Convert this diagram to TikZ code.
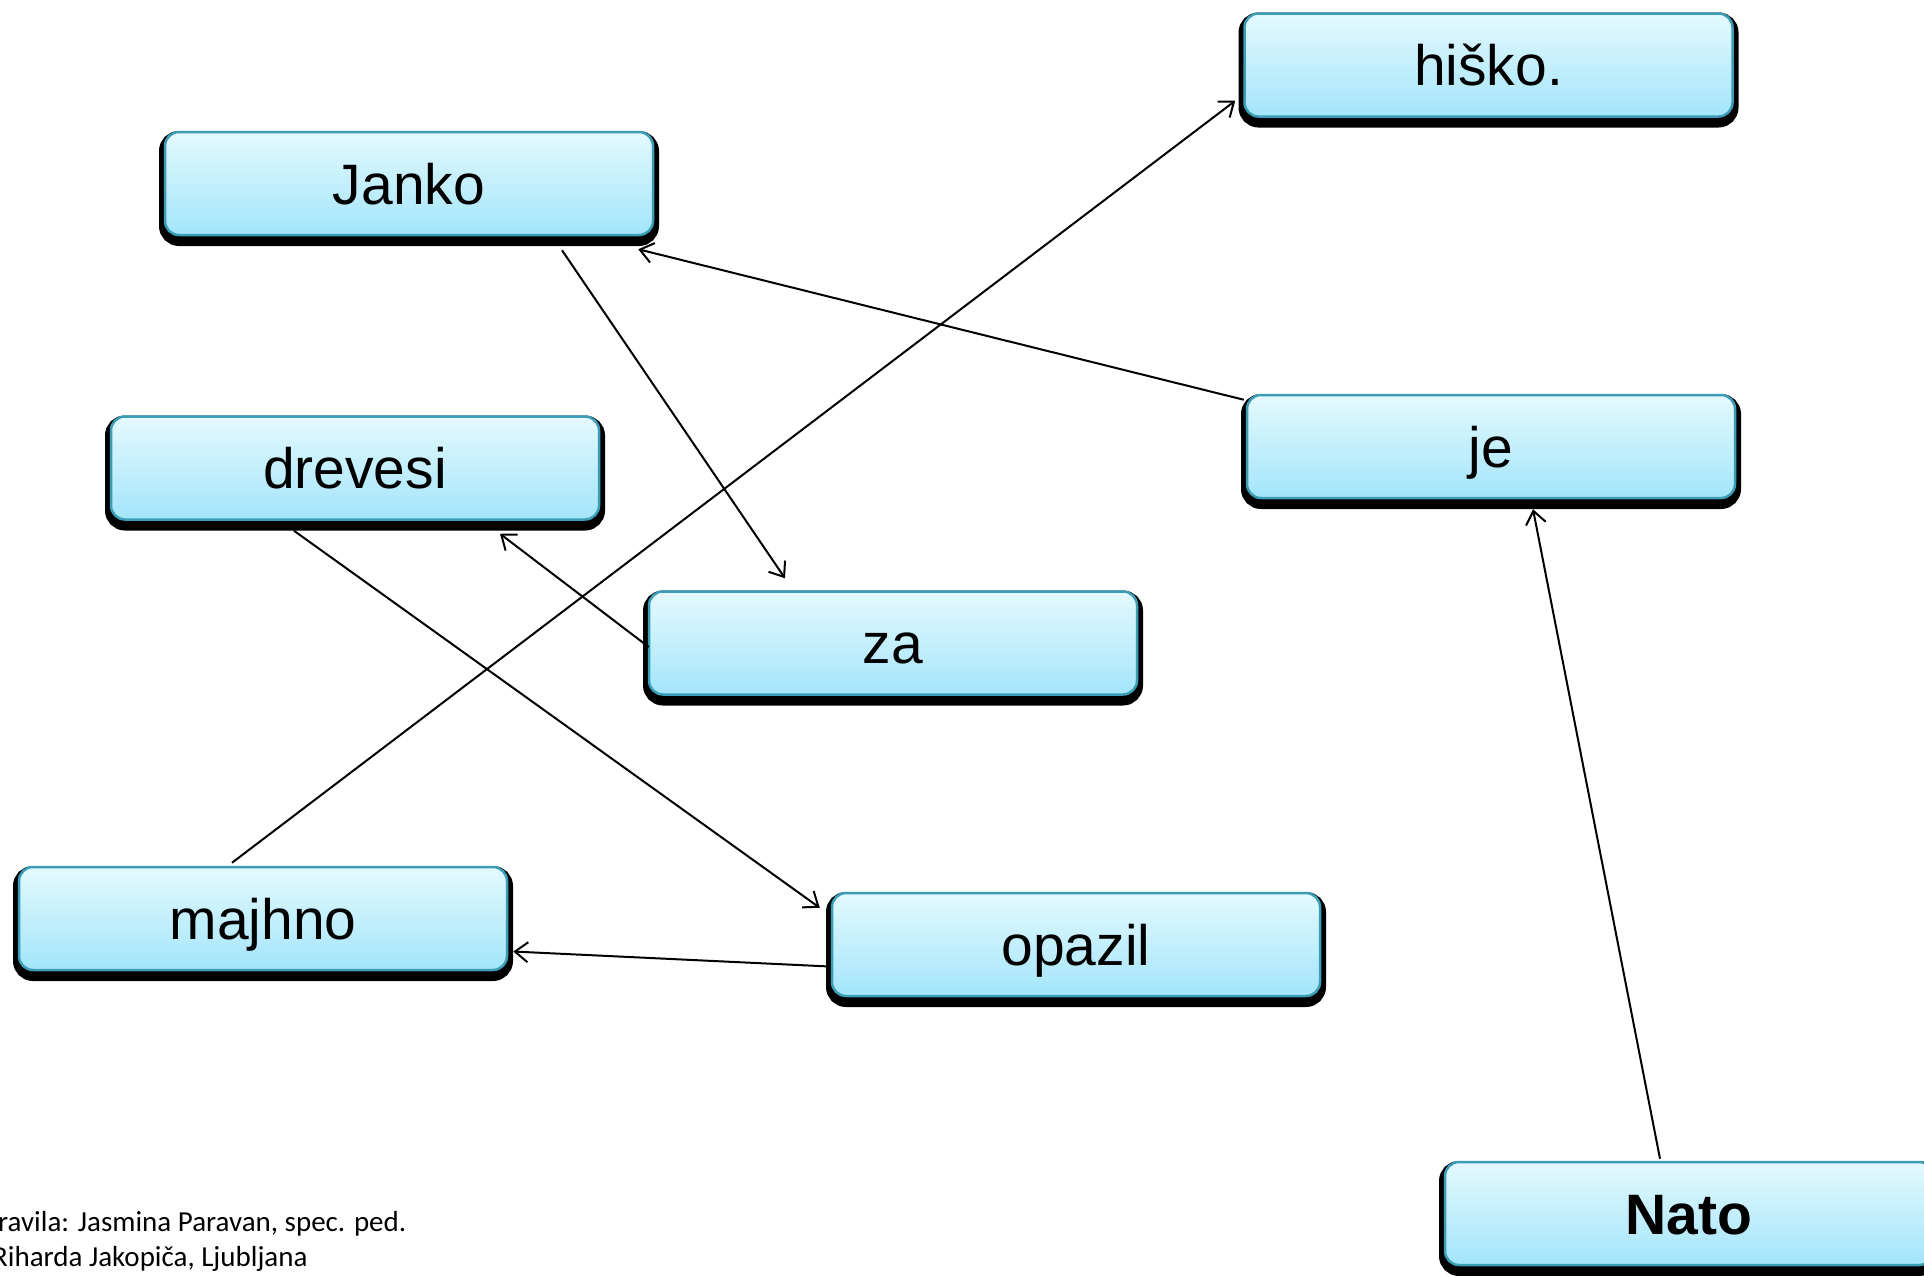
\documentclass[tikz,border=0pt]{standalone}
\usepackage{fontspec}
\setmainfont{Liberation Sans}
\newfontfamily\creditfont{Carlito}
\usetikzlibrary{arrows.meta,calc}
\definecolor{boxedge}{HTML}{3C9DB6}
\definecolor{boxtop}{HTML}{E4F9FE}
\definecolor{boxbot}{HTML}{A3E5FA}
\tikzset{
  wordbox/.style={
    rectangle, rounded corners=14pt, draw=boxedge, line width=2.5pt,
    top color=boxtop, bottom color=boxbot,
    minimum width=488pt, minimum height=103pt, inner sep=0pt,
    text height=41pt, text depth=0pt,
    font=\fontsize{57}{66}\selectfont,
    preaction={draw=black, fill=black, line width=12pt,
      transform canvas={yshift=-5pt}}
  },
  conn/.style={draw=black, line width=2pt,
    -{Straight Barb[length=13pt,width=20pt,line width=2pt]}},
  credit/.style={anchor=base west, inner sep=0pt,
    font=\creditfont\fontsize{29}{35}\selectfont}
}
\begin{document}
\begin{tikzpicture}[x=1pt,y=-1pt]
\useasboundingbox (0,0) rectangle (1924,1275);
\fill[white] (0,0) rectangle (1924,1275);
% word boxes
\node[wordbox] (hisko)   at (1488.5,65)  {hiško.};
\node[wordbox] (janko)   at (409,183.5)  {Janko};
\node[wordbox] (drevesi) at (355,468)    {drevesi};
\node[wordbox] (za)      at (893,643)    {za};
\node[wordbox] (je)      at (1491,446.5) {je};
\node[wordbox] (majhno)  at (263,918.5)  {majhno};
\node[wordbox] (opazil)  at (1076,944.5) {opazil};
\node[wordbox, font=\fontsize{57}{66}\selectfont\bfseries] (nato) at (1689,1213.5) {Nato};
% connectors
\draw[conn] ($(janko.south)+(153,14)$) -- ($(za.north)+(-108,-12)$);
\draw[conn] ($(je.north west)+(-2,6)$) -- ($(janko.south east)+(-16,13)$);
\draw[conn] ($(majhno.north)+(-31,-3)$) -- ($(hisko.south west)+(-8,-17)$);
\draw[conn] ($(drevesi.south)+(-61,10)$) -- ($(opazil.north west)+(-11,16)$);
\draw[conn] ($(za.west)+(1,4)$) -- ($(drevesi.south)+(145,13)$);
\draw[conn] ($(opazil.west)+(-1,22)$) -- ($(majhno.east)+(5,33)$);
\draw[conn] ($(nato.north)+(-29,-2)$) -- ($(je.south)+(42,10)$);
% credits
\node[credit] (credit1) at (-2,1231) {ravila: Jasmina Paravan, spec. ped.};
\node[credit] (credit2) at (-8,1266) {Riharda Jakopiča, Ljubljana};
\end{tikzpicture}
\end{document}
